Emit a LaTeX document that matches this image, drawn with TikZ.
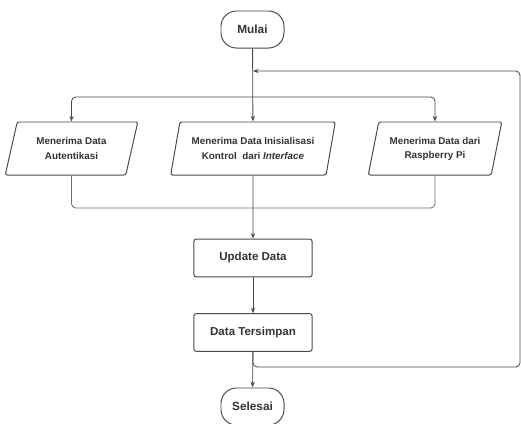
\documentclass[tikz,border=0pt]{standalone}
\usepackage{fontspec}
\setmainfont{Liberation Sans}
\usetikzlibrary{shapes.geometric,arrows.meta}
\definecolor{linegray}{HTML}{4A4A4A}
\definecolor{textgray}{HTML}{333333}
\tikzset{
	terminal/.style={draw=linegray, line width=0.7pt, rounded corners=11pt,
		minimum width=1.575cm, minimum height=0.925cm, inner sep=0pt,
		font=\fontsize{8.4}{10}\selectfont\bfseries, text=textgray},
	process/.style={draw=linegray, line width=0.7pt, rounded corners=1.5pt,
		minimum width=2.95cm, minimum height=0.94cm, inner sep=0pt,
		font=\fontsize{8.2}{10}\selectfont\bfseries, text=textgray},
	dataio/.style={draw=linegray, line width=0.7pt, rounded corners=1.5pt,
		trapezium, trapezium left angle=70, trapezium right angle=110,
		trapezium stretches=true, minimum height=1.325cm, inner sep=0pt,
		align=center, font=\fontsize{7}{10}\selectfont\bfseries, text=textgray},
	flow/.style={draw=linegray, line width=0.6pt, rounded corners=3pt,
		-{Stealth[length=4pt,width=3pt]}},
	wire/.style={draw=linegray!80, line width=0.6pt, rounded corners=3pt}
}
\begin{document}
\begin{tikzpicture}[x=0.025cm, y=-0.025cm]
	\useasboundingbox (0,0) rectangle (521,423);

	%nodes
	\node [terminal] (mulai) at (252.5, 29.5) {Mulai};
	\node [dataio, minimum width=3.325cm] (auth) at (71.5, 148.5) {Menerima Data\\Autentikasi};
	\node [dataio, minimum width=4.15cm] (init) at (253, 148.5) {Menerima Data Inisialisasi\\Kontrol\ \ dari \textit{Interface}};
	\node [dataio, minimum width=3.35cm] (rasp) at (435, 148.5) {Menerima Data dari\\Raspberry Pi};
	\node [process] (update) at (253, 258) {Update Data};
	\node [process] (simpan) at (253, 332.5) {Data Tersimpan};
	\node [terminal] (selesai) at (252.5, 406.5) {Selesai};

	%points
	\coordinate (split) at (253, 97);
	\coordinate (join) at (253, 208);
	\coordinate (back) at (253, 71);
	\coordinate (loopr) at (520, 367);

	%paths
	\draw [flow] (mulai) -- (init);
	\draw [flow] (split) -| (auth.north);
	\draw [flow] (split) -| (rasp.north);
	\draw [wire] (auth.south) |- (join) -| (rasp.south);
	\draw [flow] (init) -- (update);
	\draw [flow] (update) -- (simpan);
	\draw [flow] (simpan) -- (selesai);
	\draw [flow] (simpan.south) |- (loopr) |- (back);

\end{tikzpicture}
\end{document}
